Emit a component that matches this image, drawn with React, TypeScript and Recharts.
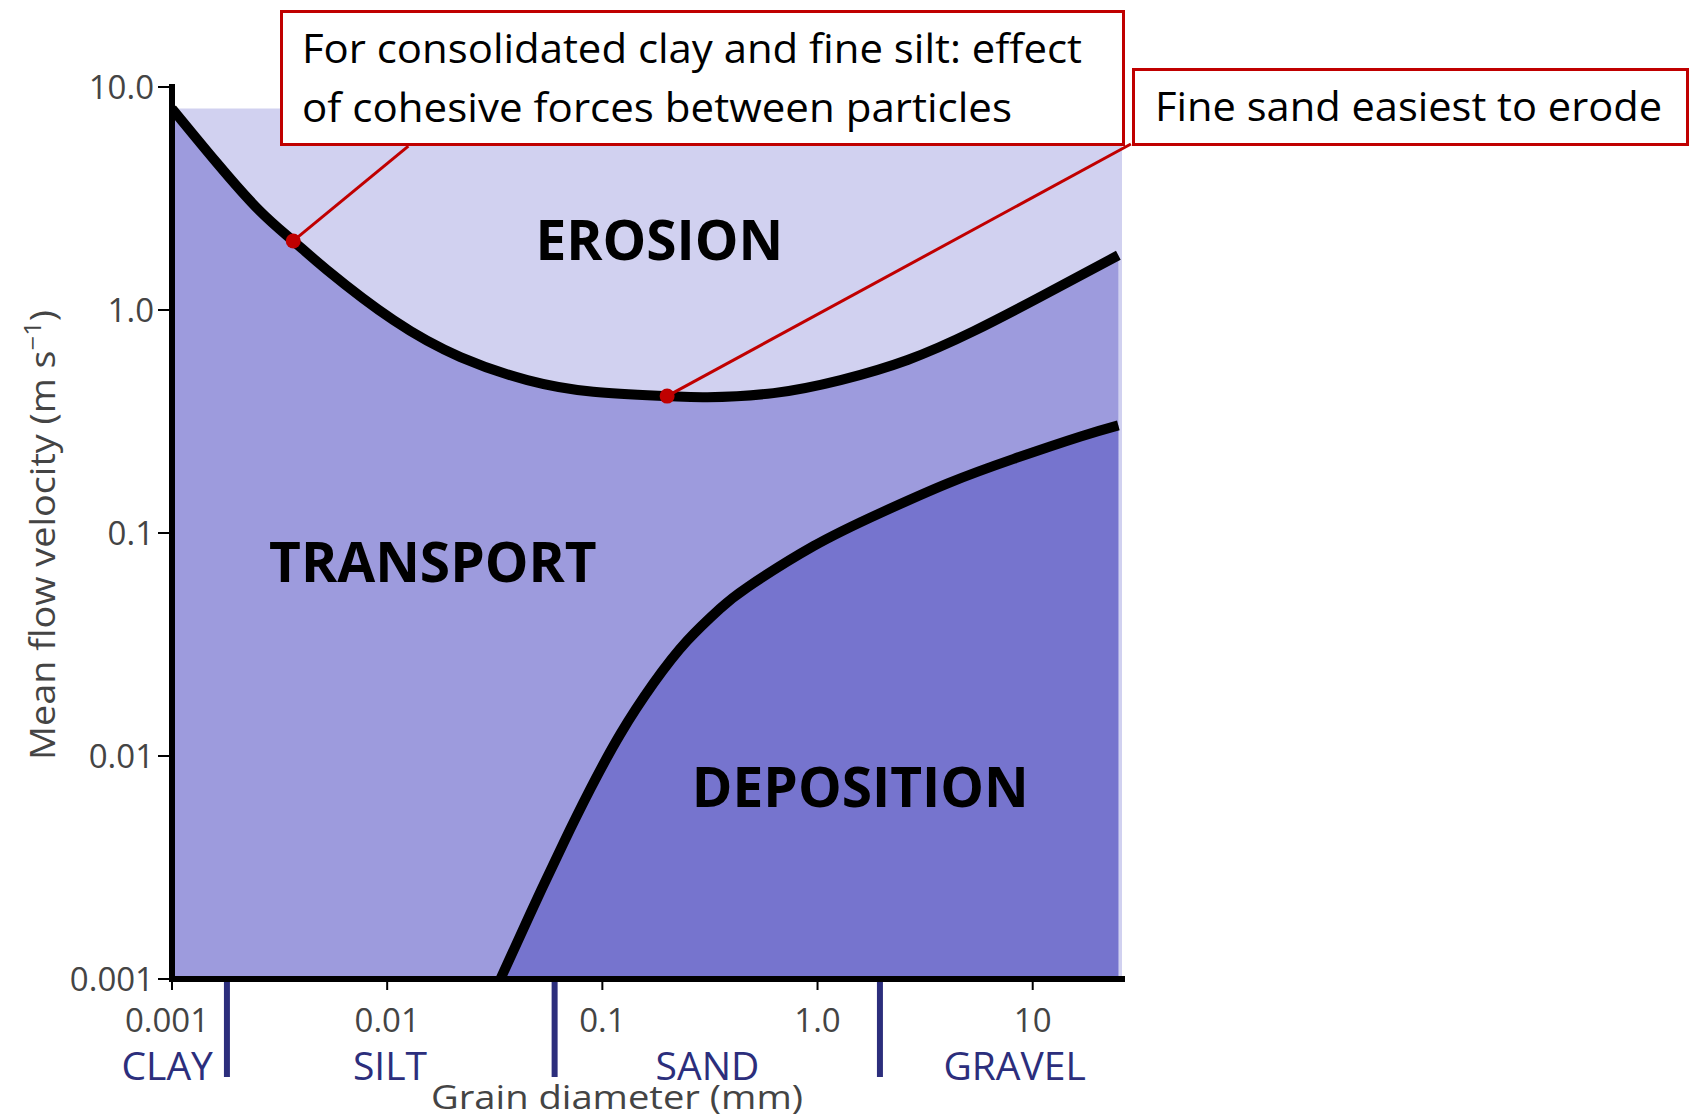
import React from 'react';
import {
  ComposedChart,
  Area,
  Line,
  XAxis,
  YAxis,
  ReferenceArea,
  ReferenceLine,
  ReferenceDot,
} from 'recharts';

// ---- Data (grain diameter in mm, mean flow velocity in m/s) ----
const erosionDiameter = [0.001, 0.0016, 0.00254, 0.00366, 0.00526, 0.0107, 0.0219, 0.0448, 0.0908, 0.2, 0.308, 0.624, 1.28, 2.62, 5.32, 10.9, 25];
const erosionVelocity = [8, 4.62, 2.8, 2.04, 1.51, 0.9, 0.615, 0.485, 0.43, 0.411, 0.406, 0.424, 0.485, 0.597, 0.804, 1.148, 1.76];

const depositionDiameter = [0.0336, 0.0462, 0.0659, 0.0879, 0.121, 0.173, 0.248, 0.354, 0.472, 0.957, 1.96, 4.03, 8.16, 16.7, 25];
const depositionVelocity = [0.001, 0.00196, 0.00406, 0.00711, 0.0125, 0.0212, 0.0329, 0.046, 0.0571, 0.0873, 0.123, 0.167, 0.215, 0.271, 0.304];

const xDomain = [0.001, 26];
const yDomain = [0.001, 10];
const erosionTop = 8;

const xTickValues = [0.001, 0.01, 0.1, 1, 10];
const xTickLabels = ['0.001', '0.01', '0.1', '1.0', '10'];
const yTickValues = [0.001, 0.01, 0.1, 1, 10];
const yTickLabels = ['0.001', '0.01', '0.1', '1.0', '10.0'];

const classBoundaries = [0.0018, 0.06, 1.95];
const classNames = ['CLAY', 'SILT', 'SAND', 'GRAVEL'];
const classCenters = [0.00095, 0.0103, 0.308, 8.24];

const regionNames = ['EROSION', 'TRANSPORT', 'DEPOSITION'];
const regionX = [0.184, 0.0163, 1.58];
const regionY = [2.06, 0.0741, 0.00724];

// annotation anchors (index into erosion curve) and leader-line ends
const noteCurveIndex = [3, 9];
const noteEndX = [0.01254, 28.6];
const noteEndY = [5.43, 5.55];

// ---- Build table ----
const diameters = Array.from(new Set([...erosionDiameter, ...depositionDiameter])).sort((a, b) => a - b);
const data = diameters.map((d) => {
  const ei = erosionDiameter.indexOf(d);
  const di = depositionDiameter.indexOf(d);
  return {
    d,
    erosion: ei >= 0 ? erosionVelocity[ei] : null,
    deposition: di >= 0 ? depositionVelocity[di] : null,
  };
});

const C_EROSION = '#d1d1f0';
const C_TRANSPORT = '#9d9bdd';
const C_DEPOSITION = '#7674ce';
const C_RED = '#c00000';
const C_NAVY = '#2c2e7c';
const C_GREY = '#444444';

const XTick = (props: any) => {
  const { x, y, payload } = props;
  const v = payload.value;
  const ni = xTickValues.indexOf(v);
  if (ni >= 0) {
    return (
      <g>
        <line x1={x} x2={x} y1={y} y2={y + 11} stroke="#000" strokeWidth={2} />
        <text x={ni === 0 ? x - 5 : x} y={y + 53} textAnchor="middle" fontSize={33} fill={C_GREY}>
          {xTickLabels[ni]}
        </text>
      </g>
    );
  }
  const bi = classBoundaries.indexOf(v);
  if (bi >= 0) {
    return <line x1={x} x2={x} y1={y + 3} y2={y + 98} stroke={C_NAVY} strokeWidth={6} />;
  }
  const ci = classCenters.indexOf(v);
  if (ci >= 0) {
    return (
      <text x={x} y={y + 101} textAnchor="middle" fontSize={39} fill={C_NAVY}>
        {classNames[ci]}
      </text>
    );
  }
  return null;
};

const YTick = (props: any) => {
  const { x, y, payload } = props;
  const i = yTickValues.indexOf(payload.value);
  return (
    <text x={x} y={y} dy="0.35em" textAnchor="end" fontSize={33} fill={C_GREY}>
      {i >= 0 ? yTickLabels[i] : ''}
    </text>
  );
};

const yLabel = () => (
  <text
    transform="rotate(-90, 55, 535)"
    x={55}
    y={535}
    textAnchor="middle"
    fontSize={34}
    fill={C_GREY}
    textLength={450}
    lengthAdjust="spacingAndGlyphs"
  >
    Mean flow velocity (m s
    <tspan fontSize={23} dy={-14}>−1</tspan>
    <tspan dy={14}>)</tspan>
  </text>
);

const xLabel = () => (
  <text x={617} y={1109} textAnchor="middle" fontSize={32} fill={C_GREY} textLength={372} lengthAdjust="spacingAndGlyphs">
    Grain diameter (mm)
  </text>
);

const regionLabel = (name: string) => (props: any) => {
  const vb = props.viewBox || {};
  const cx = vb.x + (vb.width || 0) / 2;
  const cy = vb.y + (vb.height || 0) / 2;
  return (
    <text x={cx} y={cy} dy="0.355em" textAnchor="middle" fontSize={55} fontWeight={700} fill="#000">
      {name}
    </text>
  );
};

export default function App() {
  return (
    <div
      style={{
        position: 'absolute',
        left: 0,
        top: 0,
        width: 1691,
        height: 1120,
        background: '#fff',
        fontFamily: '"Open Sans", sans-serif',
      }}
    >
      <ComposedChart width={1691} height={1120} data={data} margin={{ top: 87, right: 569, bottom: 0, left: 0 }}>
        <XAxis
          dataKey="d"
          type="number"
          scale="log"
          domain={xDomain}
          allowDataOverflow
          ticks={[...xTickValues, ...classBoundaries, ...classCenters]}
          interval={0}
          tick={<XTick />}
          tickLine={false}
          tickSize={0}
          tickMargin={0}
          height={141}
          axisLine={{ stroke: '#000', strokeWidth: 6, strokeLinecap: 'square' }}
          label={xLabel}
        />
        <YAxis
          type="number"
          scale="log"
          domain={yDomain}
          allowDataOverflow
          ticks={yTickValues}
          interval={0}
          tick={<YTick />}
          tickLine={{ stroke: '#000', strokeWidth: 2 }}
          tickSize={14}
          tickMargin={4}
          width={172}
          axisLine={{ stroke: '#000', strokeWidth: 6, strokeLinecap: 'square' }}
          label={yLabel}
        />
        <ReferenceArea
          x1={xDomain[0]}
          x2={xDomain[1]}
          y1={yDomain[0]}
          y2={erosionTop}
          fill={C_EROSION}
          fillOpacity={1}
          stroke="none"
        />
        <Area
          dataKey="erosion"
          type="natural"
          connectNulls
          baseValue={yDomain[0]}
          fill={C_TRANSPORT}
          fillOpacity={1}
          stroke="none"
          isAnimationActive={false}
        />
        <Area
          dataKey="deposition"
          type="natural"
          connectNulls
          baseValue={yDomain[0]}
          fill={C_DEPOSITION}
          fillOpacity={1}
          stroke="none"
          isAnimationActive={false}
        />
        <Line dataKey="erosion" type="natural" connectNulls stroke="#000" strokeWidth={10} dot={false} activeDot={false} isAnimationActive={false} />
        <Line dataKey="deposition" type="natural" connectNulls stroke="#000" strokeWidth={10} dot={false} activeDot={false} isAnimationActive={false} />
        {noteCurveIndex.map((ci, i) => (
          <ReferenceLine
            key={`nl${i}`}
            segment={[
              { x: erosionDiameter[ci], y: erosionVelocity[ci] },
              { x: noteEndX[i], y: noteEndY[i] },
            ]}
            stroke={C_RED}
            strokeWidth={3}
            ifOverflow="visible"
          />
        ))}
        {noteCurveIndex.map((ci, i) => (
          <ReferenceDot key={`nd${i}`} x={erosionDiameter[ci]} y={erosionVelocity[ci]} r={7.5} fill={C_RED} stroke="none" />
        ))}
        {regionNames.map((name, i) => (
          <ReferenceDot key={name} x={regionX[i]} y={regionY[i]} r={0} fill="none" stroke="none" label={regionLabel(name)} />
        ))}
      </ComposedChart>
      <svg width={1691} height={1120} style={{ position: 'absolute', left: 0, top: 0, pointerEvents: 'none' }}>
        <rect x={281.5} y={11.5} width={842} height={133} fill="#fff" stroke={C_RED} strokeWidth={3} />
        <text x={302} y={63} fontSize={41} fill="#000" textLength={780} lengthAdjust="spacingAndGlyphs">
          For consolidated clay and fine silt: effect
        </text>
        <text x={302} y={122} fontSize={41} fill="#000" textLength={710} lengthAdjust="spacingAndGlyphs">
          of cohesive forces between particles
        </text>
        <rect x={1133.5} y={69.5} width={554} height={75} fill="#fff" stroke={C_RED} strokeWidth={3} />
        <text x={1155} y={121} fontSize={41} fill="#000" textLength={507} lengthAdjust="spacingAndGlyphs">
          Fine sand easiest to erode
        </text>
      </svg>
    </div>
  );
}
